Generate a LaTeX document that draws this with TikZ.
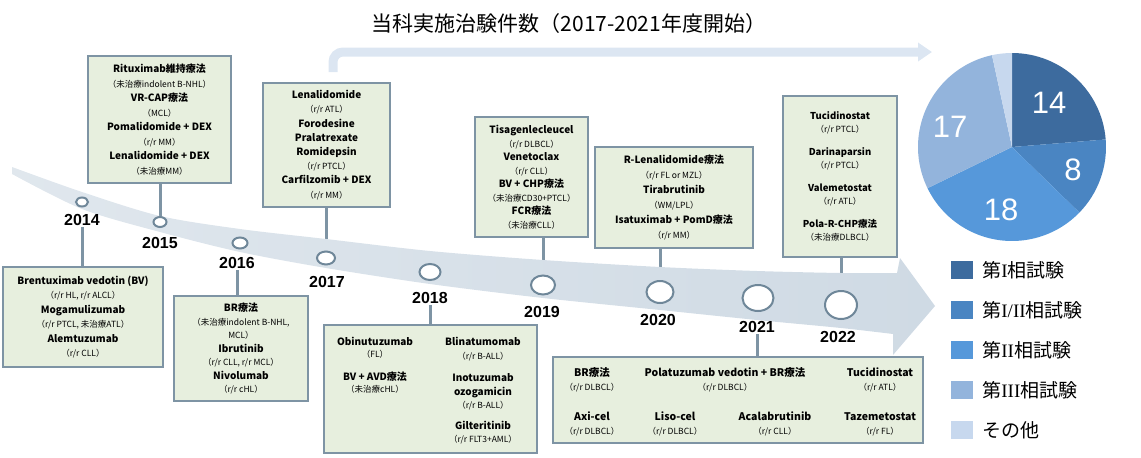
\documentclass[tikz,border=0pt]{standalone}
\usepackage{fontspec}
\setmainfont{Noto Sans CJK JP}
\newfontfamily\yearfont{Liberation Sans}
\newfontfamily\romanfont{Liberation Serif}
\usetikzlibrary{arrows.meta, positioning, shapes.geometric}
\definecolor{boxedge}{HTML}{7E94A4}
\definecolor{boxfill}{HTML}{E7EFDE}
\definecolor{bandgray}{HTML}{CFDAE4}
\definecolor{flowblue}{HTML}{DCE6F2}
\definecolor{ringgray}{HTML}{6F8799}
\definecolor{phaseone}{HTML}{3D6B9E}
\definecolor{phaseonetwo}{HTML}{4A85C2}
\definecolor{phasetwo}{HTML}{5698DA}
\definecolor{phasethree}{HTML}{93B4DC}
\definecolor{phaseother}{HTML}{C7D8EE}
\newcommand{\dn}[1]{{\bfseries #1}}
\newcommand{\ds}[1]{{\fontsize{8.5}{9}\selectfont （#1）}}
\newcommand{\dsx}[1]{{\fontsize{8.5}{9}\selectfont #1}}
\tikzset{
    trialbox/.style={rectangle, draw=boxedge, line width=2.5pt, fill=boxfill, inner sep=0pt, align=center, font=\fontsize{10}{14.5}\selectfont},
    drugtext/.style={inner sep=0pt, align=center, font=\fontsize{10}{13.5}\selectfont},
    yearring/.style={ellipse, draw=ringgray, line width=2pt, fill=white, inner sep=0pt},
    yearlabel/.style={font=\yearfont\bfseries\fontsize{16}{16}\selectfont, inner sep=1pt},
    stem/.style={draw=boxedge, line width=3pt},
    timeband/.style={left color=bandgray!65!white, right color=bandgray},
    flowarrow/.style={draw=flowblue, line width=9pt, rounded corners=10pt, -{Triangle[length=14pt, width=18pt]}},
    piecount/.style={font=\yearfont\fontsize{31}{31}\selectfont, text=white},
    keybox/.style={rectangle, minimum width=22pt, minimum height=18pt, inner sep=0pt},
    keytext/.style={anchor=west, font=\fontsize{19}{19}\selectfont, inner sep=0pt}
}

\begin{document}
\begin{tikzpicture}[x=1pt, y=-1pt]
    \useasboundingbox (0,0) rectangle (1141,458);

    \node[font=\fontsize{21}{25}\selectfont] (title) at (569,24) {当科実施治験件数（2017-2021年度開始）};
    \coordinate (flowstart) at (333,72);
    \coordinate (flowend) at (932,52);
    \draw[flowarrow] (flowstart) |- (flowend);

    \node[trialbox, minimum width=160pt, minimum height=100pt] (b14) at (83,317) {\dn{Brentuximab vedotin (BV)}\\ \ds{r/r HL, r/r ALCL}\\ \dn{Mogamulizumab}\\ \ds{r/r PTCL, 未治療ATL}\\ \dn{Alemtuzumab}\\ \ds{r/r CLL}};
    \node[trialbox, minimum width=143pt, minimum height=127pt] (b15) at (159.5,119.5) {\dn{Rituximab維持療法}\\ \ds{未治療indolent B-NHL}\\ \dn{VR-CAP療法}\\ \ds{MCL}\\ \dn{Pomalidomide + DEX}\\ \ds{r/r MM}\\ \dn{Lenalidomide + DEX}\\ \ds{未治療MM}};
    \node[trialbox, minimum width=134pt, minimum height=105pt, font=\fontsize{10}{13.5}\selectfont] (b16) at (241,348.5) {\dn{BR療法}\\ \dsx{（未治療indolent B-NHL,}\\ \dsx{MCL）}\\ \dn{Ibrutinib}\\ \ds{r/r CLL, r/r MCL}\\ \dn{Nivolumab}\\ \ds{r/r cHL}};
    \node[trialbox, minimum width=127pt, minimum height=124pt, font=\fontsize{10}{14.2}\selectfont] (b17) at (326.5,145) {\dn{Lenalidomide}\\ \ds{r/r ATL}\\ \dn{Forodesine}\\ \dn{Pralatrexate}\\ \dn{Romidepsin}\\ \ds{r/r PTCL}\\ \dn{Carfilzomib + DEX}\\ \ds{r/r MM}};
    \node[trialbox, minimum width=213pt, minimum height=128pt] (b18) at (430.5,389) {};
    \node[trialbox, minimum width=113pt, minimum height=120pt, font=\fontsize{10}{13.5}\selectfont] (b19) at (531.5,177) {\dn{Tisagenlecleucel}\\ \ds{r/r DLBCL}\\ \dn{Venetoclax}\\ \ds{r/r CLL}\\ \dn{BV + CHP療法}\\ \ds{未治療CD30+PTCL}\\ \dn{FCR療法}\\ \ds{未治療CLL}};
    \node[trialbox, minimum width=158pt, minimum height=101pt, font=\fontsize{10}{15}\selectfont] (b20) at (674,197.5) {\dn{R-Lenalidomide療法}\\ \ds{r/r FL or MZL}\\ \dn{Tirabrutinib}\\ \ds{WM/LPL}\\ \dn{Isatuximab + PomD療法}\\ \ds{r/r MM}};
    \node[trialbox, minimum width=370pt, minimum height=86pt] (b21) at (738,400) {};
    \node[trialbox, minimum width=114pt, minimum height=161pt, font=\fontsize{9.5}{13}\selectfont] (b22) at (840,176.5) {\dn{Tucidinostat}\\ \ds{r/r PTCL}\\[10pt] \dn{Darinaparsin}\\ \ds{r/r PTCL}\\[10pt] \dn{Valemetostat}\\ \ds{r/r ATL}\\[10pt] \dn{Pola-R-CHP療法}\\ \ds{未治療DLBCL}};

    \node[drugtext, font=\fontsize{10}{12.5}\selectfont] (b18left) at (375,365) {\dn{Obinutuzumab}\\ \ds{FL}\\[10pt] \dn{BV + AVD療法}\\ \ds{未治療cHL}};
    \node[drugtext] (b18right) at (483,391) {\dn{Blinatumomab}\\ \ds{r/r B-ALL}\\[9pt] \dn{Inotuzumab}\\ \dn{ozogamicin}\\ \ds{r/r B-ALL}\\[7pt] \dn{Gilteritinib}\\ \ds{r/r FLT3+AML}};

    \node[drugtext, font=\fontsize{10.5}{14}\selectfont] (b21a) at (592,380) {\dn{BR療法}\\ \ds{r/r DLBCL}};
    \node[drugtext, font=\fontsize{10.5}{14}\selectfont] (b21b) at (725,380) {\dn{Polatuzumab vedotin + BR療法}\\ \ds{r/r DLBCL}};
    \node[drugtext, font=\fontsize{10.5}{14}\selectfont] (b21c) at (880,380) {\dn{Tucidinostat}\\ \ds{r/r ATL}};
    \node[drugtext, font=\fontsize{10.5}{14}\selectfont] (b21d) at (592,424) {\dn{Axi-cel}\\ \ds{r/r DLBCL}};
    \node[drugtext, font=\fontsize{10.5}{14}\selectfont] (b21e) at (675,424) {\dn{Liso-cel}\\ \ds{r/r DLBCL}};
    \node[drugtext, font=\fontsize{10.5}{14}\selectfont] (b21f) at (775,424) {\dn{Acalabrutinib}\\ \ds{r/r CLL}};
    \node[drugtext, font=\fontsize{10.5}{14}\selectfont] (b21g) at (880,424) {\dn{Tazemetostat}\\ \ds{r/r FL}};

    \coordinate (p14) at (82,202);
    \coordinate (p15) at (160,222);
    \coordinate (p16) at (240,243);
    \coordinate (p17) at (326,258);
    \coordinate (p18) at (430,272);
    \coordinate (p19) at (543,285);
    \coordinate (p20) at (660,292);
    \coordinate (p21) at (758,298);
    \coordinate (p22) at (841,305);

    \draw[stem] (b15.south -| p15) -- (p15);
    \draw[stem] (b17.south -| p17) -- (p17);
    \draw[stem] (b19.south -| p19) -- (p19);
    \draw[stem] (b20.south -| p20) -- (p20);
    \draw[stem] (b22.south -| p22) -- (p22);

    \path[timeband] plot[smooth] coordinates {(12,167) (82,192) (160,216) (240,229) (326,239) (430,251) (543,260) (660,267) (757,271) (841,273) (897,273)}
        -- (900,258) -- (935,306) -- (893,355)
        -- plot[smooth] coordinates {(893,334) (841,328) (757,320) (660,310) (543,298) (430,284) (326,268) (240,252) (160,232) (82,209) (12,174)} -- cycle;

    \node[yearring, minimum width=12pt, minimum height=9pt] (c14) at (p14) {};
    \node[yearring, minimum width=13pt, minimum height=10pt] (c15) at (p15) {};
    \node[yearring, minimum width=15pt, minimum height=11pt] (c16) at (p16) {};
    \node[yearring, minimum width=18pt, minimum height=13pt] (c17) at (p17) {};
    \node[yearring, minimum width=21pt, minimum height=16pt] (c18) at (p18) {};
    \node[yearring, minimum width=24pt, minimum height=19pt] (c19) at (p19) {};
    \node[yearring, minimum width=27pt, minimum height=22pt] (c20) at (p20) {};
    \node[yearring, minimum width=31pt, minimum height=26pt] (c21) at (p21) {};
    \node[yearring, minimum width=32pt, minimum height=28pt] (c22) at (p22) {};

    \node[yearlabel] (y14) at (82,220) {2014};
    \node[yearlabel] (y15) at (160,243) {2015};
    \node[yearlabel] (y16) at (237,263) {2016};
    \node[yearlabel] (y17) at (327,282) {2017};
    \node[yearlabel] (y18) at (430,298) {2018};
    \node[yearlabel] (y19) at (542,312) {2019};
    \node[yearlabel] (y20) at (658,320) {2020};
    \node[yearlabel] (y21) at (757,327) {2021};
    \node[yearlabel] (y22) at (838,337) {2022};

    \draw[stem] (y14.south) -- (y14.south |- b14.north);
    \draw[stem] (y16.south) -- (y16.south |- b16.north);
    \draw[stem] (y18.south) -- (y18.south |- b18.north);
    \draw[stem] (y21.south) -- (y21.south |- b21.north);

    \begin{scope}[shift={(1012,147)}, yscale=-1]
        \foreach \from/\to/\tone in {90/4.6/phaseone, 4.6/-44.2/phaseonetwo, -44.2/-154/phasetwo, -154/-257.7/phasethree, -257.7/-270/phaseother}
            \fill[\tone] (0,0) -- (\from:94) arc[start angle=\from, end angle=\to, radius=94] -- cycle;
    \end{scope}
    \node[piecount] (n14) at (1049,103) {14};
    \node[piecount] (n8) at (1073,170) {8};
    \node[piecount] (n18) at (1001,210) {18};
    \node[piecount] (n17) at (950,127) {17};

    \node[keybox, fill=phaseone] (key1) at (962,270) {};
    \node[keytext, right=9pt of key1] (keyt1) {第{\romanfont I}相試験};
    \node[keybox, fill=phaseonetwo] (key2) at (962,310) {};
    \node[keytext, right=9pt of key2] (keyt2) {第{\romanfont I/II}相試験};
    \node[keybox, fill=phasetwo] (key3) at (962,350) {};
    \node[keytext, right=9pt of key3] (keyt3) {第{\romanfont II}相試験};
    \node[keybox, fill=phasethree] (key4) at (962,390) {};
    \node[keytext, right=9pt of key4] (keyt4) {第{\romanfont III}相試験};
    \node[keybox, fill=phaseother] (key5) at (962,430) {};
    \node[keytext, right=9pt of key5] (keyt5) {その他};
\end{tikzpicture}
\end{document}
